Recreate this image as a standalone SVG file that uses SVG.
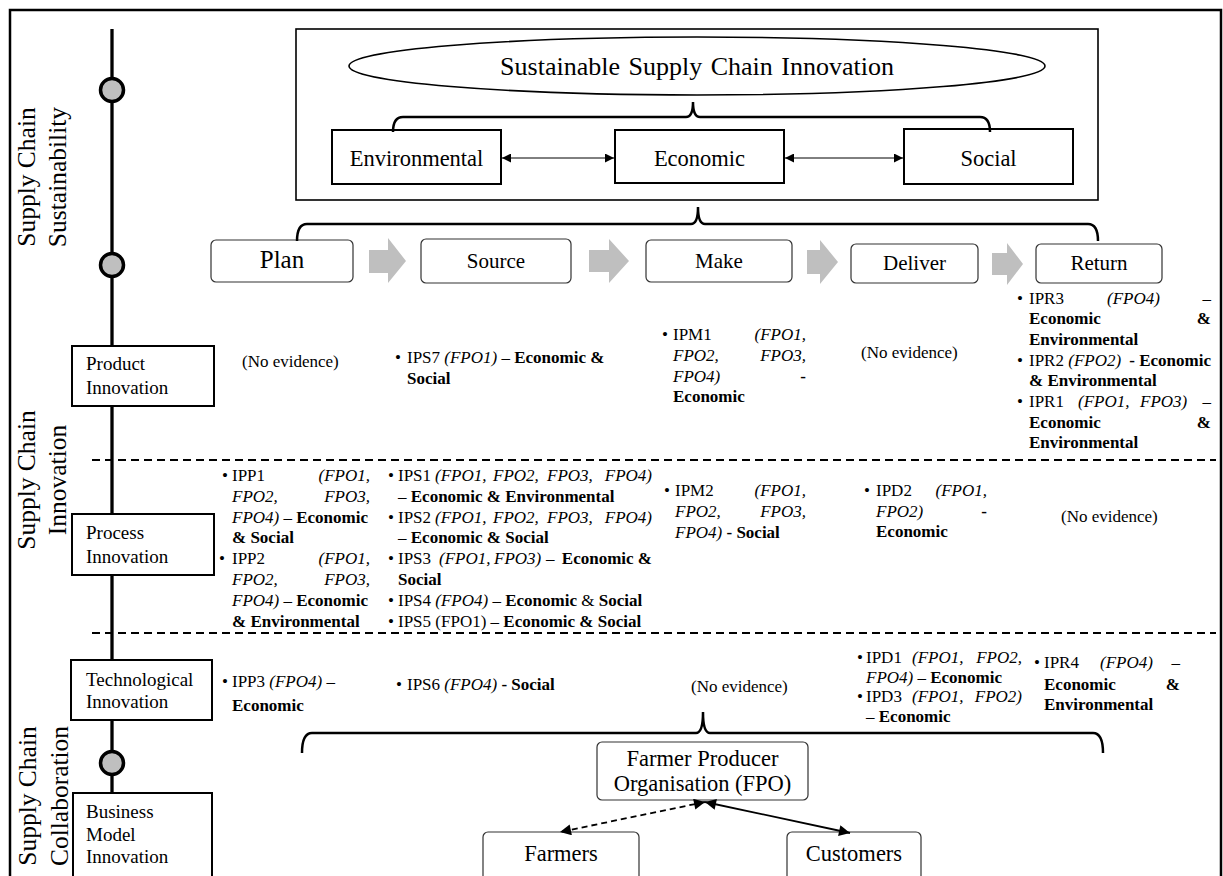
<svg xmlns="http://www.w3.org/2000/svg" width="1223" height="876" viewBox="0 0 1223 876">
<defs>
<style>
text{font-family:"Liberation Serif","Times New Roman",serif;fill:#000}
.t{font-size:17px}
.i{font-style:italic}
.b{font-weight:bold}
.e{text-anchor:end}
.m{text-anchor:middle}
.lbl{font-size:19px}
.big{font-size:22.5px}
.ph{font-size:21px}
.rot{font-size:25.5px;text-anchor:middle}
.box{fill:#fff;stroke:#000;stroke-width:2}
.rbox{fill:#fff;stroke:#333;stroke-width:1.2}
.brace{fill:none;stroke:#000;stroke-width:2.5}
.dash{stroke:#000;stroke-width:1.8;stroke-dasharray:8 5}
.garrow{fill:#bfbfbf}
.dot{fill:#bfbfbf;stroke:#000;stroke-width:3.5}
</style>
<marker id="ah" viewBox="0 0 10 10" refX="10" refY="5" markerWidth="11" markerHeight="9" markerUnits="userSpaceOnUse" orient="auto-start-reverse"><path d="M0,0 L10,5 L0,10 Z" fill="#000"/></marker>
<marker id="ah2" viewBox="0 0 10 10" refX="10" refY="5" markerWidth="14" markerHeight="11" markerUnits="userSpaceOnUse" orient="auto-start-reverse"><path d="M0,0 L10,5 L0,10 Z" fill="#000"/></marker>
</defs>
<rect width="1223" height="876" fill="#fff"/>
<rect x="10" y="10" width="1211" height="900" fill="none" stroke="#000" stroke-width="2.5"/>

<g id="axis">
<line x1="112" y1="29" x2="112" y2="876" stroke="#000" stroke-width="3.3"/>
<circle class="dot" cx="112" cy="90" r="11.5"/>
<circle class="dot" cx="112" cy="265" r="11.5"/>
<circle class="dot" cx="112" cy="763" r="11.5"/>
</g>

<g id="side-labels">
<text class="rot" transform="translate(35,177) rotate(-90)">Supply Chain</text>
<text class="rot" transform="translate(66,177) rotate(-90)">Sustainability</text>
<text class="rot" transform="translate(35,480) rotate(-90)">Supply Chain</text>
<text class="rot" transform="translate(66,480) rotate(-90)">Innovation</text>
<text class="rot" transform="translate(36,796) rotate(-90)">Supply Chain</text>
<text class="rot" transform="translate(68,796) rotate(-90)">Collaboration</text>
</g>

<g id="dividers">
<line class="dash" x1="92" y1="460" x2="1216" y2="460"/>
<line class="dash" x1="92" y1="633" x2="1216" y2="633"/>
</g>

<g id="sustainability-box">
<rect x="296" y="29" width="802" height="171" fill="none" stroke="#000" stroke-width="1.6"/>
</g>

<g id="sscinnovation">
<ellipse cx="697" cy="66" rx="348" ry="29" fill="#fff" stroke="#000" stroke-width="1.6"/>
<text class="m" x="697" y="75" font-size="26" word-spacing="2">Sustainable Supply Chain Innovation</text>
</g>

<g id="environmental">
<rect class="box" x="332" y="130" width="169" height="54"/>
<text class="m big" x="416.5" y="166">Environmental</text>
</g>
<g id="economic">
<rect class="box" x="615" y="130" width="169" height="53"/>
<text class="m big" x="699.5" y="166">Economic</text>
</g>
<g id="social">
<rect class="box" x="904" y="129" width="169" height="55"/>
<text class="m big" x="988.5" y="166">Social</text>
</g>

<g id="plan">
<rect class="rbox" x="211" y="240" width="142" height="42" rx="5"/>
<text class="m" x="282" y="268" font-size="25">Plan</text>
</g>
<g id="source">
<rect class="rbox" x="421" y="239" width="150" height="44" rx="5"/>
<text class="m ph" x="496" y="268">Source</text>
</g>
<g id="make">
<rect class="rbox" x="646" y="240" width="146" height="42" rx="5"/>
<text class="m ph" x="719" y="268">Make</text>
</g>
<g id="deliver">
<rect class="rbox" x="851" y="244" width="127" height="39" rx="5"/>
<text class="m ph" x="914.5" y="270">Deliver</text>
</g>
<g id="return">
<rect class="rbox" x="1036" y="244" width="126" height="39" rx="5"/>
<text class="m ph" x="1099" y="270">Return</text>
</g>

<g id="product-innovation">
<rect class="box" x="72" y="346" width="142" height="60"/>
<text class="lbl" x="86" y="370">Product</text>
<text class="lbl" x="86" y="394">Innovation</text>
</g>
<g id="process-innovation">
<rect class="box" x="72" y="514" width="142" height="61"/>
<text class="lbl" x="86" y="539">Process</text>
<text class="lbl" x="86" y="563">Innovation</text>
</g>
<g id="technological-innovation">
<rect class="box" x="71" y="660" width="141" height="60"/>
<text class="lbl" x="86" y="686">Technological</text>
<text class="lbl" x="86" y="708">Innovation</text>
</g>
<g id="business-model-innovation">
<rect class="box" x="73" y="793" width="139" height="100"/>
<text class="lbl" x="86" y="818">Business</text>
<text class="lbl" x="86" y="841">Model</text>
<text class="lbl" x="86" y="863">Innovation</text>
</g>

<g id="fpo">
<rect class="rbox" x="597" y="742" width="211" height="58" rx="5"/>
<text class="m big" x="702.5" y="766">Farmer Producer</text>
<text class="m big" x="702.5" y="791">Organisation (FPO)</text>
</g>
<g id="farmers">
<rect class="rbox" x="483" y="832" width="156" height="60" rx="5"/>
<text class="m big" x="561" y="861">Farmers</text>
</g>
<g id="customers">
<rect class="rbox" x="787" y="832" width="134" height="60" rx="5"/>
<text class="m big" x="854" y="861">Customers</text>
</g>

<g id="connectors">
<path class="brace" d="M393,132 Q393,117 403,117 L686,117 Q693,117 693,102 Q693,117 700,117 L980,117 Q990,117 990,132"/>
<path class="brace" d="M297,241 Q297,224 307,224 L691,224 Q698,224 698,207 Q698,224 705,224 L1088,224 Q1098,224 1098,241"/>
<path class="brace" d="M302,753 Q302,733 312,733 L696,733 Q703,733 703,712 Q703,733 710,733 L1093,733 Q1103,733 1103,753"/>
<line x1="502" y1="158" x2="614" y2="158" stroke="#000" stroke-width="1" marker-start="url(#ah)" marker-end="url(#ah)"/>
<line x1="785" y1="158" x2="903" y2="158" stroke="#000" stroke-width="1" marker-start="url(#ah)" marker-end="url(#ah)"/>
<path class="garrow" d="M369,250 H388 V238 L406,261 L388,283 V273 H369 Z"/>
<path class="garrow" d="M589,250 H609 V239 L629,261 L609,283 V272 H589 Z"/>
<path class="garrow" d="M807,250 H820 V240 L838,262 L820,284 V274 H807 Z"/>
<path class="garrow" d="M992,253 H1007 V243 L1023,264 L1007,285 V275 H992 Z"/>
<line x1="705" y1="802" x2="560" y2="832" stroke="#000" stroke-width="1.8" stroke-dasharray="6 4" marker-start="url(#ah2)" marker-end="url(#ah2)"/>
<line x1="705" y1="802" x2="850" y2="833" stroke="#000" stroke-width="1.8" marker-start="url(#ah2)" marker-end="url(#ah2)"/>
</g>

<g id="evidence" class="t">
<!-- Product row -->
<text x="242" y="367">(No evidence)</text>
<text x="395" y="363">•</text>
<text x="407" y="363">IPS7 <tspan class="i">(FPO1)</tspan> – <tspan class="b">Economic &amp;</tspan></text>
<text class="b" x="407" y="384">Social</text>

<text x="662" y="340">•</text>
<text x="673" y="340">IPM1</text><text class="i e" x="806" y="340">(FPO1,</text>
<text class="i" x="673" y="361">FPO2,</text><text class="i e" x="806" y="361">FPO3,</text>
<text class="i" x="673" y="381.5">FPO4)</text><text class="b e" x="806" y="381.5">-</text>
<text class="b" x="673" y="402">Economic</text>

<text x="861" y="358">(No evidence)</text>

<text x="1017" y="303.5">•</text>
<text x="1029" y="303.5">IPR3</text><text class="i" x="1107" y="303.5">(FPO4)</text><text class="e" x="1211" y="303.5">–</text>
<text class="b" x="1029" y="324">Economic</text><text class="b e" x="1211" y="324">&amp;</text>
<text class="b" x="1029" y="345">Environmental</text>
<text x="1017" y="365.5">•</text>
<text x="1029" y="365.5">IPR2 <tspan class="i">(FPO2)</tspan></text><text class="b e" x="1211" y="365.5">- Economic</text>
<text class="b" x="1029" y="386">&amp; Environmental</text>
<text x="1017" y="407">•</text>
<text x="1029" y="407">IPR1</text><text class="i" x="1078" y="407">(FPO1,</text><text class="i" x="1140" y="407">FPO3)</text><text class="e" x="1211" y="407">–</text>
<text class="b" x="1029" y="427.5">Economic</text><text class="b e" x="1211" y="427.5">&amp;</text>
<text class="b" x="1029" y="448">Environmental</text>

<!-- Process row -->
<text x="222" y="481">•</text>
<text x="232" y="481">IPP1</text><text class="i e" x="370" y="481">(FPO1,</text>
<text class="i" x="232" y="501.8">FPO2,</text><text class="i e" x="370" y="501.8">FPO3,</text>
<text x="232" y="522.6"><tspan class="i">FPO4)</tspan> – <tspan class="b">Economic</tspan></text>
<text class="b" x="232" y="543.4">&amp; Social</text>
<text x="219" y="564.2">•</text>
<text x="232" y="564.2">IPP2</text><text class="i e" x="370" y="564.2">(FPO1,</text>
<text class="i" x="232" y="585">FPO2,</text><text class="i e" x="370" y="585">FPO3,</text>
<text x="232" y="605.8"><tspan class="i">FPO4)</tspan> – <tspan class="b">Economic</tspan></text>
<text class="b" x="232" y="626.6">&amp; Environmental</text>

<text x="388" y="481">•</text>
<text x="398" y="481">IPS1</text><text class="i" x="435" y="481">(FPO1,</text><text class="i" x="493" y="481">FPO2,</text><text class="i" x="547" y="481">FPO3,</text><text class="i e" x="652" y="481">FPO4)</text>
<text x="398" y="501.8">– <tspan class="b">Economic &amp; Environmental</tspan></text>
<text x="388" y="522.6">•</text>
<text x="398" y="522.6">IPS2</text><text class="i" x="435" y="522.6">(FPO1,</text><text class="i" x="493" y="522.6">FPO2,</text><text class="i" x="547" y="522.6">FPO3,</text><text class="i e" x="652" y="522.6">FPO4)</text>
<text x="398" y="543.4">– <tspan class="b">Economic &amp; Social</tspan></text>
<text x="388" y="564.2">•</text>
<text x="398" y="564.2">IPS3</text><text class="i" x="439" y="564.2">(FPO1,</text><text class="i" x="494" y="564.2">FPO3)</text><text x="546" y="564.2">–</text><text class="b e" x="652" y="564.2">Economic &amp;</text>
<text class="b" x="398" y="585">Social</text>
<text x="388" y="605.8">•</text>
<text x="398" y="605.8">IPS4 <tspan class="i">(FPO4)</tspan> – <tspan class="b">Economic</tspan> &amp; <tspan class="b">Social</tspan></text>
<text x="388" y="626.6">•</text>
<text x="398" y="626.6">IPS5 (FPO1) – <tspan class="b">Economic &amp; Social</tspan></text>

<text x="664" y="496">•</text>
<text x="675" y="496">IPM2</text><text class="i e" x="806" y="496">(FPO1,</text>
<text class="i" x="675" y="517">FPO2,</text><text class="i e" x="806" y="517">FPO3,</text>
<text x="675" y="537.5"><tspan class="i">FPO4)</tspan> <tspan class="b">- Social</tspan></text>

<text x="864" y="496">•</text>
<text x="876" y="496">IPD2</text><text class="i e" x="987" y="496">(FPO1,</text>
<text class="i" x="876" y="516.5">FPO2)</text><text class="b e" x="987" y="516.5">-</text>
<text class="b" x="876" y="537">Economic</text>

<text x="1061" y="522">(No evidence)</text>

<!-- Technological row -->
<text x="222" y="687">•</text>
<text x="232" y="687">IPP3 <tspan class="i">(FPO4)</tspan> –</text>
<text class="b" x="232" y="711">Economic</text>

<text x="396" y="690">•</text>
<text x="407" y="690">IPS6 <tspan class="i">(FPO4)</tspan> <tspan class="b">- Social</tspan></text>

<text x="691" y="692">(No evidence)</text>

<text x="857" y="663">•</text>
<text x="866" y="663">IPD1</text><text class="i" x="912" y="663">(FPO1,</text><text class="i e" x="1022" y="663">FPO2,</text>
<text x="866" y="682.5"><tspan class="i">FPO4)</tspan> – <tspan class="b">Economic</tspan></text>
<text x="857" y="702">•</text>
<text x="866" y="702">IPD3</text><text class="i" x="912" y="702">(FPO1,</text><text class="i e" x="1022" y="702">FPO2)</text>
<text x="866" y="722">– <tspan class="b">Economic</tspan></text>

<text x="1034" y="668">•</text>
<text x="1044" y="668">IPR4</text><text class="i" x="1100" y="668">(FPO4)</text><text class="e" x="1180" y="668">–</text>
<text class="b" x="1044" y="689.5">Economic</text><text class="b e" x="1180" y="689.5">&amp;</text>
<text class="b" x="1044" y="710">Environmental</text>
</g>
</svg>
